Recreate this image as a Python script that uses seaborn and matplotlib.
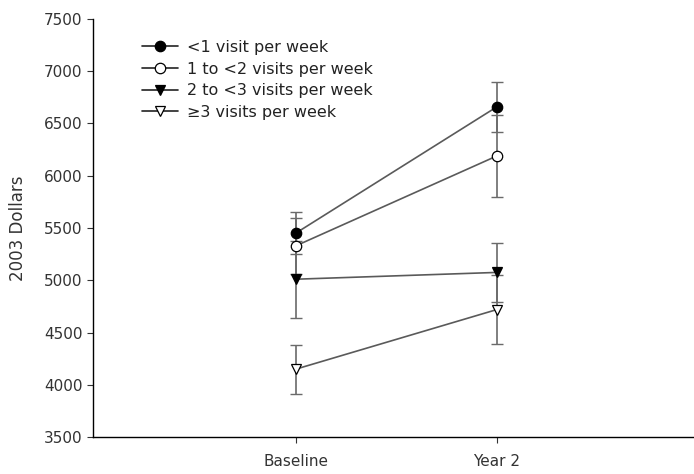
import numpy as np
import pandas as pd
import matplotlib
matplotlib.use('Agg')
import matplotlib.pyplot as plt
import seaborn as sns

# Values
times = ['Baseline', 'Year 2']
groups = ['<1 visit per week', '1 to <2 visits per week',
          '2 to <3 visits per week', '\u22653 visits per week']
means = {
    '<1 visit per week': [5452, 6660],
    '1 to <2 visits per week': [5330, 6190],
    '2 to <3 visits per week': [5010, 5075],
    '\u22653 visits per week': [4150, 4720],
}
errs = {
    '<1 visit per week': [200, 240],
    '1 to <2 visits per week': [270, 390],
    '2 to <3 visits per week': [370, 285],
    '\u22653 visits per week': [235, 330],
}

rows = []
for g in groups:
    for i, t in enumerate(times):
        rows.append({'group': g, 'x': i, 'time': t,
                     'cost': means[g][i], 'err': errs[g][i]})
df = pd.DataFrame(rows)

sns.set_style('white')
plt.rcParams['font.family'] = ['DejaVu Sans']

fig = plt.figure(figsize=(6.94, 4.74), dpi=100)
ax = fig.add_axes([0.134, 0.078, 0.866, 0.882])

styles = {
    '<1 visit per week': ('o', 'black'),
    '1 to <2 visits per week': ('o', 'white'),
    '2 to <3 visits per week': ('v', 'black'),
    '\u22653 visits per week': ('v', 'white'),
}

# error bars first so markers sit on top
for g in groups:
    sub = df[df['group'] == g]
    ax.errorbar(sub['x'], sub['cost'], yerr=sub['err'], fmt='none',
                ecolor='#6a6a6a', elinewidth=1.2, capsize=4, capthick=1.0,
                zorder=2)

for g in groups:
    sub = df[df['group'] == g]
    m, fc = styles[g]
    sns.lineplot(data=sub, x='x', y='cost', ax=ax, color='#5a5a5a',
                 linewidth=1.2, marker=m, markersize=7.5,
                 markerfacecolor=fc, markeredgecolor='black',
                 markeredgewidth=0.9, label=g, zorder=3)

ax.set_xlim(-1.01, 1.98)
ax.set_ylim(3500, 7500)
ax.set_yticks(np.arange(3500, 7501, 500))
ax.set_xticks([0, 1])
ax.set_xticklabels(times)
ax.set_xlabel('')
ax.set_ylabel('2003 Dollars', fontsize=12, color='#333333', labelpad=12)

for s in ['top', 'right']:
    ax.spines[s].set_visible(False)
for s in ['left', 'bottom']:
    ax.spines[s].set_color('black')
    ax.spines[s].set_linewidth(1.0)
ax.tick_params(axis='both', which='both', direction='out', length=4,
               width=0.8, color='#333333', labelsize=11, labelcolor='#333333',
               left=True, bottom=True)
ax.tick_params(axis='x', pad=8)

leg = ax.legend(loc='upper left', bbox_to_anchor=(0.081, 0.950),
                frameon=False, fontsize=11.5, handlelength=2.25,
                handletextpad=0.6, labelspacing=0.42, borderaxespad=0,
                borderpad=0)
for t in leg.get_texts():
    t.set_color('#222222')
for h in leg.get_lines():
    h.set_color('#222222')

fig.savefig('out.png', dpi=100)
